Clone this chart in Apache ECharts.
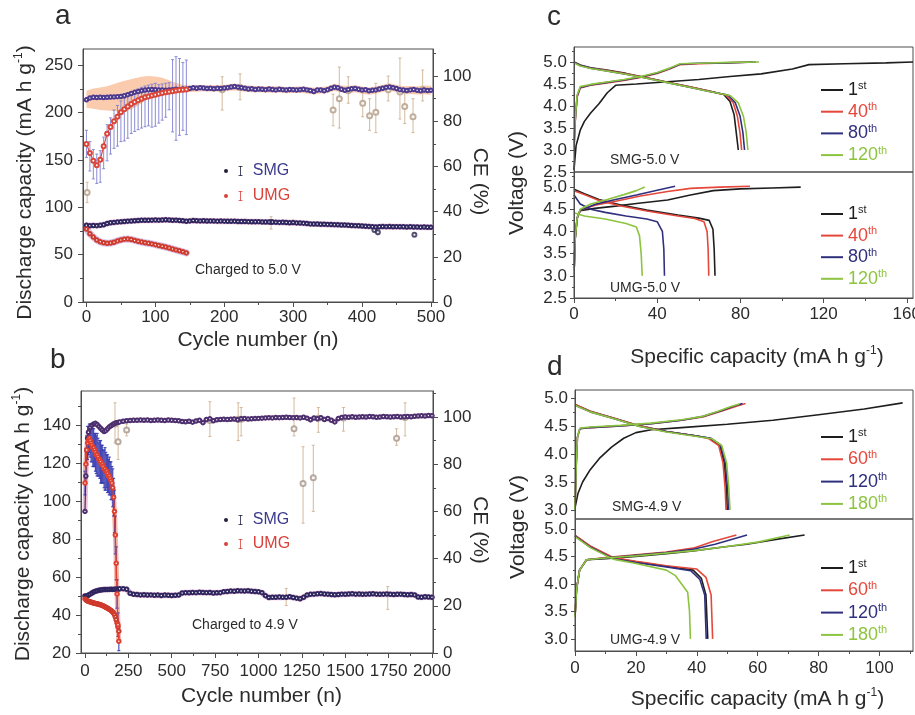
<!DOCTYPE html>
<html>
<head>
<meta charset="utf-8">
<title>Cycling performance of SMG and UMG</title>
<script src="https://cdn.jsdelivr.net/npm/echarts@6.0.0/dist/echarts.min.js"></script>
<style>
html,body{margin:0;padding:0;background:#ffffff;}
#chart{width:915px;height:715px;}
</style>
</head>
<body>
<div id="chart"></div>
<script>
// ================= DATA : panel a (charged to 5.0 V) =================
const aCycles = [0,5,10,15,20,25,30,35,40,45,50,55,60,65,70,75,80,85,90,95,
  100,105,110,115,120,125,130,135,140,145,150,155,160,165,170,175,180,185,190,195,
  200,205,210,215,220,225,230,235,240,245,250,255,260,265,270,275,280,285,290,295,
  300,305,310,315,320,325,330,335,340,345,350,355,360,365,370,375,380,385,390,395,
  400,405,410,415,420,425,430,435,440,445,450,455,460,465,470,475,480,485,490,495,500];
const aSmgCap = [81.0,80.5,80.8,80.6,81.0,81.5,82.8,83.6,84.0,84.3,
  84.6,85.0,85.3,85.5,85.8,86.0,86.2,86.3,86.3,86.4,
  86.5,86.4,86.6,86.7,86.5,86.3,86.4,86.0,85.8,85.2,
  85.6,85.9,85.8,85.6,85.7,85.5,85.6,85.4,85.3,85.4,
  85.3,85.2,85.1,85.3,85.0,84.9,85.0,84.8,84.7,84.6,
  84.8,84.5,84.4,84.5,84.3,84.2,84.0,84.1,83.9,83.7,
  83.8,83.5,83.3,83.2,82.8,82.4,82.2,82.3,82.1,82.0,
  81.9,81.8,81.6,81.5,81.3,81.2,81.0,80.8,80.6,80.4,
  80.2,80.0,79.8,79.5,79.2,79.4,79.6,79.5,79.6,79.4,
  79.5,79.3,79.4,79.2,79.3,79.1,79.2,79.0,79.1,78.9,78.8];
const aSmgCe = [89.5,90.3,90.6,90.5,90.6,90.5,90.6,90.7,90.8,90.9,
  91.0,91.3,91.8,92.3,92.8,93.2,93.5,93.8,94.0,94.1,
  94.0,93.9,93.8,93.7,93.9,94.0,94.2,94.1,94.3,94.2,
  94.5,94.8,94.6,94.9,94.7,94.5,94.6,94.4,94.6,94.5,
  94.7,94.9,95.2,95.4,95.1,94.8,94.6,94.3,94.4,94.1,
  94.3,94.2,94.0,94.3,94.1,93.9,94.2,94.0,93.8,94.1,
  94.0,93.8,94.0,94.2,93.9,93.6,93.2,93.8,93.9,93.5,
  94.0,94.6,95.1,94.8,94.2,93.7,94.1,94.4,94.5,94.2,
  93.8,94.0,93.5,93.7,93.9,94.3,94.6,95.0,95.2,94.9,
  94.5,94.0,93.8,93.6,93.9,94.1,93.7,93.5,93.8,93.6,93.7];
const aUmgCycles = [0,5,10,15,20,25,30,35,40,45,50,55,60,65,70,75,80,85,90,95,
  100,105,110,115,120,125,130,135,140,145];
const aUmgCap = [77.0,72.0,68.5,65.5,63.5,62.5,62.0,62.3,63.0,64.5,
  65.5,66.3,66.5,66.0,65.0,64.0,63.3,62.6,62.0,61.3,
  60.5,59.6,58.8,58.0,57.0,56.0,55.0,54.0,53.0,51.8];
const aUmgCe = [70.0,66.0,62.5,60.5,63.0,69.0,74.5,77.5,80.0,82.0,
  84.0,85.3,86.5,87.6,88.5,89.3,90.0,90.6,91.0,91.4,
  91.8,92.2,92.5,92.8,93.1,93.3,93.6,93.8,94.0,94.1];
const aUmgCeErrDown = [6,8,8,8,10,10,12,12,12,13,13,14,14,13,13,13,13,13,13,14,14,13,12,11,8,18,22,20,18,20];
const aUmgCeErrUp = [6,5,5,5,4,4,4,4,5,5,5,5,5,5,5,5,5,5,5,5,5,4,4,4,4,14,15,14,12,13];
// error band of SMG coulombic efficiency
const aBandCycles = [0,10,20,30,40,50,60,70,80,90,100,110,120,130,140,150,160,170,180,190,
  200,210,220,230,240,250,260,270,280,290,300,310,320,330,340,350,360,370,380,390,
  400,410,420,430,440,450,460,470,480,490,500];
const aBandLow = [86,85.5,85,84.8,84.5,84.3,84.8,86,88,90,
  91.5,92,92.2,92.4,92.8,93,93.1,93.3,93.2,93.1,
  93.2,93.6,93.5,93.1,92.9,92.8,92.7,92.6,92.7,92.4,
  92.5,92.6,92.3,91.9,92.3,92.5,93.4,92.8,92.4,92.9,
  92.2,91.8,92.2,93.1,93.6,92.8,92,92.1,91.9,92,91.8];
const aBandHigh = [93.5,94.5,95,95.5,96.5,97.5,98.3,99,99.7,100,
  99.8,99.3,98.2,97,96.2,95.8,96.2,96,95.9,96,
  96.1,96.6,96.5,96,95.7,95.6,95.4,95.5,95.5,95.2,
  95.3,95.4,95.3,94.8,95.2,95.5,96.6,95.8,95.6,96,
  95.4,95,95.4,96.2,96.8,96.1,95.5,95.6,95.4,95.8,95.7];
// scattered CE outliers with error bars
const aOutCycles = [1,197,223,358,367,380,401,411,420,438,455,462,474,488];
const aOutCe = [48.5,94,95,85,90,93.5,88,82.5,84,94,93,86.5,82,94];
const aOutLow = [44,85,89.5,78,77,88,82,76,75,89,81,79,75,89];
const aOutHigh = [53,99.7,101,92,104,99.7,93,90,96.8,100,108,94,90,102.7];
const aCapOutCycles = [268,418,423,476];
const aCapOutVal = [84.5,76,73.5,71];
const aCapOutLow = [77,74,71,69];
const aCapOutHigh = [90,78,76,73];

// ================= DATA : panel b (charged to 4.9 V) =================
const bCycles = [0,5,10,15,20,30,40,50,60,70,80,90,100,110,120,130,140,150,160,170,180,190,200,
  220,240,260,280,300,320,340,360,380,400,420,440,460,480,500,520,540,560,580,600,
  620,640,660,680,700,720,740,760,780,800,820,840,860,880,900,920,940,960,980,1000,
  1020,1040,1060,1080,1100,1120,1140,1160,1180,1200,1220,1240,1260,1280,1300,1320,1340,1360,1380,1400,
  1420,1440,1460,1480,1500,1520,1540,1560,1580,1600,1620,1640,1660,1680,1700,1720,1740,1760,1780,1800,
  1820,1840,1860,1880,1900,1920,1940,1960,1980,2000];
const bSmgCap = [50.0,49.8,49.9,50.2,50.5,
  51.0,51.6,52.1,52.5,52.8,53.0,53.2,53.3,53.4,53.4,53.5,53.5,53.6,53.5,53.6,53.7,53.6,53.8,
  53.9,53.6,51.5,50.9,50.8,50.6,50.7,50.5,50.6,50.4,
  50.5,50.3,50.5,50.4,50.3,50.4,50.5,51.6,51.8,51.7,
  51.9,51.8,52.0,51.9,51.8,51.9,51.6,51.7,51.8,52.3,
  52.4,52.6,52.5,52.8,52.7,52.6,52.8,52.5,52.4,52.2,
  51.8,50.2,49.2,49.4,49.3,49.5,49.3,49.4,49.6,49.2,
  48.9,48.6,49.3,50.5,50.9,51.0,51.2,51.3,51.1,51.0,
  50.8,50.7,50.8,51.0,50.9,51.1,51.2,51.0,51.1,50.9,
  51.0,51.1,51.2,51.0,50.9,51.0,51.1,50.9,50.8,50.9,
  51.0,50.8,50.7,50.8,50.6,49.5,49.4,49.6,49.5,49.4];
const bSmgCe = [60.0,75.0,86.0,91.0,93.5,
  95.5,96.5,97.0,97.3,96.8,96.0,95.2,94.5,93.8,94.2,95.0,95.8,96.3,96.8,97.2,97.5,97.7,97.9,
  98.2,98.4,98.5,98.6,98.6,98.7,98.6,98.7,98.5,98.6,
  98.7,98.6,98.5,98.7,98.6,98.5,98.4,98.1,98.0,98.2,
  97.8,98.3,98.6,97.6,98.9,99.2,98.4,98.8,98.9,99.0,
  98.9,99.0,99.1,98.8,99.2,99.3,99.1,99.2,99.3,99.4,
  99.5,99.6,99.7,99.6,99.8,99.7,99.8,99.9,99.8,99.7,
  99.8,99.6,99.9,99.5,98.8,99.6,99.2,99.7,98.9,99.4,
  98.6,97.9,99.3,99.8,100.0,99.9,100.1,99.9,100.0,100.1,
  100.0,100.2,100.1,99.9,100.0,100.2,100.1,100.0,100.1,100.2,
  100.0,100.1,100.2,100.1,100.3,100.4,100.5,100.4,100.6,100.5];
const bUmgCycles = [0,5,10,15,20,25,30,35,40,45,50,55,60,65,70,75,80,85,90,95,
  100,105,110,115,120,125,130,135,140,145,150,155,160,165,170,175,180,185,190,195];
const bUmgCap = [48.5,48.0,47.6,47.4,47.2,47.0,46.9,46.8,46.6,46.5,
  46.3,46.2,46.1,46.0,45.9,45.8,45.6,45.5,45.4,45.2,
  45.0,44.8,44.6,44.3,44.1,43.8,43.6,43.3,43.0,42.7,
  42.4,42.0,41.6,41.0,40.2,39.0,37.5,35.8,33.8,31.5];
const bUmgCe = [72,80,86,89,90,91,90,89,88,87,
  87,86,85,84,84,83,82,82,81,80,
  80,79,78,78,77,77,76,75,75,74,
  73,72,70,66,60,50,38,25,12,5];
const bUmgCeErr = [5,6,6,7,6,6,7,8,7,8,8,7,8,8,9,8,7,8,9,8,8,7,8,9,8,7,8,7,8,7,8,7,8,8,9,8,7,6,5,4];
const bOutCycles = [173,191,240,720,883,900,1205,1257,1316,1345,1490,1796,1845];
const bOutCe = [97,89.5,94.5,98.5,99,99,95,71.8,74.3,99.5,99.6,91,99.8];
const bOutLow = [89,82,92,91.7,90,92,92,55,60,93.5,94,88,92];
const bOutHigh = [106,97,97,106.5,106,104,108,87.4,88,104,104,95,106];
const bCapOutCycles = [1160,1745];
const bCapOutVal = [50,50];
const bCapOutLow = [45,43];
const bCapOutHigh = [54,55];

// ================= DATA : panel c (5.0 V profiles) =================
const c1Ch1X = [0,1,3,5,8,12,16,20,30,45,60,75,90,105,113,130,150,163];
const c1Ch1Y = [2.55,3.1,3.45,3.65,3.84,4.05,4.3,4.47,4.5,4.55,4.6,4.67,4.73,4.84,4.94,4.96,4.98,5.0];
const c1Ch40X = [0,0.5,1.5,3,8,15,24,32,40,46,51,60,72,86];
const c1Ch40Y = [3.0,3.6,4.2,4.41,4.47,4.52,4.58,4.65,4.74,4.84,4.94,4.96,4.98,5.0];
const c1Ch80X = [0,0.5,1.5,3,8,15,24,32,40,46,51,60,74,87.5];
const c1Ch80Y = [3.0,3.62,4.22,4.42,4.48,4.53,4.59,4.66,4.75,4.85,4.95,4.97,4.98,5.0];
const c1Ch120X = [0,0.5,1.5,3,8,15,24,32,40,46,51,60,75,89];
const c1Ch120Y = [3.0,3.65,4.25,4.44,4.49,4.54,4.6,4.67,4.76,4.86,4.96,4.97,4.99,5.0];
const c1Dc1X = [0,3,8,15,25,35,45,55,65,72,75,77,78,79];
const c1Dc1Y = [5.0,4.93,4.87,4.82,4.74,4.64,4.54,4.44,4.34,4.26,4.1,3.8,3.4,3.0];
const c1Dc40X = [0,3,8,15,25,35,45,55,65,73,76.5,78.5,79.8,80.6];
const c1Dc40Y = [4.99,4.92,4.86,4.81,4.73,4.64,4.54,4.44,4.34,4.25,4.08,3.78,3.4,3.0];
const c1Dc80X = [0,3,8,15,25,35,45,55,65,74,77.5,79.8,81.2,82];
const c1Dc80Y = [4.99,4.92,4.86,4.8,4.72,4.63,4.53,4.43,4.33,4.25,4.08,3.78,3.4,3.0];
const c1Dc120X = [0,3,8,15,25,35,45,55,65,75,79,81.5,82.8,83.6];
const c1Dc120Y = [4.98,4.91,4.85,4.8,4.72,4.63,4.53,4.43,4.33,4.24,4.07,3.76,3.4,3.0];

const c2Ch1X = [0,0.5,1.5,3,10,20,30,45,56,67,80,95,109];
const c2Ch1Y = [3.0,3.8,4.3,4.47,4.52,4.57,4.63,4.71,4.82,4.92,4.96,4.98,5.0];
const c2Ch40X = [0,0.5,1.5,3,10,20,32,45,56,70,84.6];
const c2Ch40Y = [3.0,3.8,4.3,4.48,4.59,4.68,4.8,4.9,4.97,5.0,5.02];
const c2Ch80X = [0,0.5,1.5,3,10,20,30,40,48.6];
const c2Ch80Y = [3.0,3.8,4.3,4.48,4.61,4.72,4.82,4.93,5.02];
const c2Ch120X = [0,0.5,1.5,3,8,16,24,30,34];
const c2Ch120Y = [3.0,3.8,4.3,4.5,4.62,4.72,4.83,4.92,5.0];
const c2Dc1X = [0,5,12,22,35,50,60,65,66.8,67.4,67.8];
const c2Dc1Y = [4.95,4.85,4.72,4.6,4.48,4.37,4.3,4.25,4.05,3.6,3.0];
const c2Dc40X = [0,5,12,22,35,50,58,62.5,64,64.5,64.8];
const c2Dc40Y = [4.92,4.83,4.7,4.58,4.46,4.35,4.29,4.22,4.0,3.6,3.0];
const c2Dc80X = [0,3,8,15,25,35,40,42.5,43.2,43.5];
const c2Dc80Y = [4.82,4.62,4.5,4.43,4.35,4.28,4.22,4.0,3.6,3.0];
const c2Dc120X = [0,5,15,25,30,31.5,32.3,32.8];
const c2Dc120Y = [4.42,4.35,4.28,4.18,4.1,3.9,3.5,3.0];

// ================= DATA : panel d (4.9 V profiles) =================
const d1Ch1X = [0,1,2.5,5,8,12,16,20,25,35,50,65,80,95,107.6];
const d1Ch1Y = [3.04,3.3,3.5,3.72,3.92,4.12,4.28,4.38,4.43,4.47,4.53,4.6,4.7,4.8,4.91];
const d1Ch60X = [0,0.4,0.8,1.6,5,15,25,35,42,48,53,56];
const d1Ch60Y = [3.0,3.8,4.3,4.45,4.47,4.5,4.54,4.6,4.66,4.76,4.85,4.9];
const d1Ch120X = [0,0.4,0.8,1.6,5,15,25,35,42,48,52,55];
const d1Ch120Y = [3.0,3.8,4.3,4.45,4.47,4.5,4.54,4.6,4.67,4.77,4.85,4.9];
const d1Ch180X = [0,0.4,0.8,1.6,5,15,25,35,42,47,51,54];
const d1Ch180Y = [3.0,3.8,4.3,4.46,4.48,4.51,4.55,4.61,4.67,4.76,4.84,4.89];
const d1Dc1X = [0,5,12.6,21.3,30,40,44.3,47.5,49,49.7,50];
const d1Dc1Y = [4.88,4.76,4.64,4.5,4.4,4.32,4.28,4.16,3.84,3.4,3.0];
const d1Dc60X = [0,5,12.6,21.3,30,40,44,47.2,48.6,49.3,49.6];
const d1Dc60Y = [4.88,4.76,4.64,4.5,4.4,4.32,4.27,4.15,3.84,3.4,3.0];
const d1Dc120X = [0,5,12.6,21.3,30,40,44.6,47.8,49.4,50.1,50.5];
const d1Dc120Y = [4.87,4.75,4.63,4.49,4.4,4.32,4.28,4.16,3.84,3.4,3.0];
const d1Dc180X = [0,5,12.6,21.3,30,40,45,48.2,49.8,50.5,50.9];
const d1Dc180Y = [4.87,4.75,4.63,4.49,4.39,4.31,4.27,4.15,3.84,3.4,3.0];

const d2Ch1X = [0,0.5,1.5,3.8,10,20,30,38.8,50,56.4,65,75.4];
const d2Ch1Y = [3.4,3.9,4.25,4.44,4.46,4.5,4.55,4.6,4.68,4.72,4.8,4.89];
const d2Ch60X = [0,0.5,1.5,3.8,10,20,30,38.8,45.3,53];
const d2Ch60Y = [3.4,3.9,4.25,4.44,4.48,4.53,4.58,4.65,4.77,4.89];
const d2Ch120X = [0,0.5,1.5,3.8,10,20,30,38.8,46,56.5];
const d2Ch120Y = [3.4,3.9,4.25,4.44,4.47,4.52,4.57,4.63,4.72,4.89];
const d2Ch180X = [0,0.5,1.5,3.8,10,20,30,40,50,60,70.5];
const d2Ch180Y = [3.4,3.9,4.25,4.44,4.47,4.51,4.56,4.61,4.68,4.76,4.89];
const d2Dc1X = [0,5,12.5,20,30,38.8,41.5,43,43.6];
const d2Dc1Y = [4.88,4.68,4.47,4.4,4.32,4.25,4.1,3.8,3.0];
const d2Dc60X = [0,5,12.5,20,30,40,43,44.7,45.2];
const d2Dc60Y = [4.88,4.69,4.48,4.41,4.33,4.27,4.12,3.8,3.0];
const d2Dc120X = [0,5,12.5,20,30,38,41,42.6,43.1];
const d2Dc120Y = [4.87,4.67,4.46,4.39,4.31,4.24,4.08,3.8,3.0];
const d2Dc180X = [0,5,12.5,20,30,33,35,37,37.6,37.9];
const d2Dc180Y = [4.86,4.66,4.45,4.37,4.25,4.15,4.0,3.85,3.5,3.0];

// ================= tick values / labels =================
const aXTicks = [0,100,200,300,400,500];
const aXMinor = [50,150,250,350,450];
const aYTicks = [0,50,100,150,200,250];
const aYMinor = [25,75,125,175,225];
const ceTicks = [0,20,40,60,80,100];
const ceMinor = [10,30,50,70,90,110];
const bXTicks = [0,250,500,750,1000,1250,1500,1750,2000];
const bXMinor = [125,375,625,875,1125,1375,1625,1875];
const bYTicks = [20,40,60,80,100,120,140];
const bYMinor = [30,50,70,90,110,130,150];
const cXTicks = [0,40,80,120,160];
const cXMinor = [20,60,100,140];
const cYTicks = [2.5,3.0,3.5,4.0,4.5,5.0];
const cYMinor = [2.75,3.25,3.75,4.25,4.75,5.25];
const dXTicks = [0,20,40,60,80,100];
const dXMinor = [10,30,50,70,90,110];
const dYTicks = [3.0,3.5,4.0,4.5,5.0];
const dYMinor = [3.25,3.75,4.25,4.75];
const cLegend = ['1st','40th','80th','120th'];
const dLegend = ['1st','60th','120th','180th'];

// ================= styling =================
const FONT = 'Liberation Sans, Arial, Helvetica, sans-serif';
const INK = '#2b2b2b';
const AXC = '#4d4d4d';
const CURVE = ['#1e1e1e','#e5473b','#2f2f7e','#8cc43f'];
const RICH_NAME = {
  t: {fontSize: 21, fontFamily: FONT, color: INK, lineHeight: 24},
  sup: {fontSize: 12, fontFamily: FONT, color: INK, lineHeight: 12, verticalAlign: 'top'}
};
const SPEC_NAME = '{t|Specific capacity (mA h g}{sup|-1}{t|)}';
const DC_NAME = '{t|Discharge capacity (mA h g}{sup|-1}{t|)}';
const f1 = v => Number(v).toFixed(1);
const plain = v => String(v);

function majorAxis(gridIndex, pos, min, max, ticks, o) {
  o = o || {};
  const ax = {
    type: 'value', gridIndex: gridIndex, position: pos, min: min, max: max,
    splitLine: {show: false}, minorSplitLine: {show: false},
    axisLine: {show: o.line !== false, onZero: false, lineStyle: {color: AXC, width: 1}},
    axisTick: {show: o.ticks !== false, inside: false, length: o.tl || 5, lineStyle: {color: AXC, width: 1}},
    axisLabel: {show: o.labels !== false, margin: o.margin || 8, color: INK,
      fontSize: o.fs || 17, fontFamily: FONT, formatter: o.fmt || plain},
    silent: true, z: 5
  };
  if (ticks && ticks.length) {
    ax.axisTick.customValues = ticks;
    ax.axisLabel.customValues = ticks;
  }
  if (o.name) {
    ax.name = o.name;
    ax.nameLocation = 'middle';
    ax.nameGap = o.gap;
    ax.nameMoveOverlap = false;
    if (o.rot !== undefined) ax.nameRotate = o.rot;
    ax.nameTextStyle = {fontSize: 21, fontFamily: FONT, color: INK, rich: RICH_NAME, padding: o.pad || 0};
  }
  return ax;
}
function minorAxis(gridIndex, pos, min, max, ticks, len) {
  return {
    type: 'value', gridIndex: gridIndex, position: pos, min: min, max: max,
    splitLine: {show: false}, axisLine: {show: false, onZero: false}, axisLabel: {show: false},
    axisTick: {show: true, inside: false, length: len || 3, customValues: ticks, lineStyle: {color: AXC, width: 1}},
    silent: true, z: 5
  };
}
function pts(xs, ys) { return xs.map((x, i) => [x, ys[i]]); }

function glow(xi, yi, xs, ys, color, width) {
  return {type: 'line', xAxisIndex: xi, yAxisIndex: yi, data: pts(xs, ys), symbol: 'none',
    lineStyle: {color: color, width: width, opacity: 0.7, cap: 'round', join: 'round'}, silent: true, z: 2, animation: false};
}
function dots(name, xi, yi, xs, ys, color, size) {
  return {type: 'line', name: name, xAxisIndex: xi, yAxisIndex: yi, data: pts(xs, ys),
    symbol: 'emptyCircle', symbolSize: size || 3.5, showSymbol: true, showAllSymbol: true,
    lineStyle: {color: color, width: 1.2}, itemStyle: {color: color, borderWidth: 1},
    silent: true, z: 4, animation: false};
}
function scatterPts(xi, yi, xs, ys, color, size) {
  return {type: 'scatter', xAxisIndex: xi, yAxisIndex: yi, data: pts(xs, ys), symbol: 'emptyCircle',
    symbolSize: size || 5, itemStyle: {color: color, borderWidth: 1}, silent: true, z: 4, animation: false};
}
function errBars(xi, yi, xs, lo, hi, color, cap, width, opacity) {
  return {
    type: 'custom', xAxisIndex: xi, yAxisIndex: yi, silent: true, clip: true, animation: false, z: 3,
    data: xs.map((x, i) => [x, lo[i], hi[i]]), encode: {x: 0, y: [1, 2]},
    renderItem: function (params, api) {
      const x = api.value(0);
      const p1 = api.coord([x, api.value(1)]);
      const p2 = api.coord([x, api.value(2)]);
      const st = {stroke: color, lineWidth: width || 1, opacity: opacity || 1};
      return {type: 'group', children: [
        {type: 'line', shape: {x1: p1[0], y1: p1[1], x2: p2[0], y2: p2[1]}, style: st},
        {type: 'line', shape: {x1: p1[0] - cap, y1: p1[1], x2: p1[0] + cap, y2: p1[1]}, style: st},
        {type: 'line', shape: {x1: p2[0] - cap, y1: p2[1], x2: p2[0] + cap, y2: p2[1]}, style: st}
      ]};
    }
  };
}
function band(xi, yi, xs, lo, hi, color) {
  return {
    type: 'custom', xAxisIndex: xi, yAxisIndex: yi, silent: true, clip: true, animation: false, z: 1,
    data: [[xs[0], lo[0]]], encode: {x: 0, y: 1},
    renderItem: function (params, api) {
      const top = xs.map((x, i) => api.coord([x, hi[i]]));
      const bot = xs.map((x, i) => api.coord([x, lo[i]])).reverse();
      return {type: 'polygon', shape: {points: top.concat(bot)}, style: {fill: color}};
    }
  };
}
function curve(name, xi, yi, xs, ys, color) {
  return {type: 'line', name: name, xAxisIndex: xi, yAxisIndex: yi, data: pts(xs, ys),
    symbol: 'none', showSymbol: false, lineStyle: {color: color, width: 1.6},
    itemStyle: {color: color}, silent: true, z: 3, animation: false};
}
function diff(v, e, sign) { return v.map((x, i) => x + sign * e[i]); }

// ================= axes =================
const xAxes = [
  majorAxis(0, 'bottom', -5, 503, aXTicks, {name: 'Cycle number (n)', gap: 28, margin: 7}),   // 0
  minorAxis(0, 'bottom', -5, 503, aXMinor),                                                     // 1
  majorAxis(1, 'bottom', -23, 2006, bXTicks, {name: 'Cycle number (n)', gap: 33, margin: 10, pad: [0, 0, 0, 9]}), // 2
  minorAxis(1, 'bottom', -23, 2006, bXMinor),                                                   // 3
  majorAxis(2, 'bottom', 0, 163, [], {labels: false, ticks: false, line: false}),              // 4 c1
  majorAxis(3, 'bottom', 0, 163, cXTicks, {name: SPEC_NAME, gap: 47, margin: 8, pad: [0, 0, 0, 27]}), // 5 c2
  minorAxis(3, 'bottom', 0, 163, cXMinor),                                                      // 6
  majorAxis(4, 'bottom', 0, 111, [], {labels: false, ticks: false, line: false}),              // 7 d1
  majorAxis(5, 'bottom', 0, 111, dXTicks, {name: SPEC_NAME, gap: 36, margin: 9, pad: [0, 0, 0, 27]}), // 8 d2
  minorAxis(5, 'bottom', 0, 111, dXMinor)                                                       // 9
];
const yAxes = [
  majorAxis(0, 'left', 0, 267, aYTicks, {name: DC_NAME, gap: 46, margin: 10, pad: [0, 14, 0, 0]}),  // 0
  minorAxis(0, 'left', 0, 267, aYMinor),                                                // 1
  majorAxis(0, 'right', 0, 112, ceTicks, {name: 'CE (%)', rot: -90, gap: 36, margin: 10, pad: [0, 0, 0, 12]}), // 2
  minorAxis(0, 'right', 0, 112, ceMinor),                                               // 3
  majorAxis(1, 'left', 20, 158, bYTicks, {name: DC_NAME, gap: 46, margin: 10, pad: [0, 4, 0, 0]}),  // 4
  minorAxis(1, 'left', 20, 158, bYMinor),                                               // 5
  majorAxis(1, 'right', 0, 111, ceTicks, {name: 'CE (%)', rot: -90, gap: 36, margin: 10, pad: [0, 0, 0, 16]}), // 6
  minorAxis(1, 'right', 0, 111, ceMinor),                                               // 7
  majorAxis(2, 'left', 2.5, 5.34, cYTicks, {fmt: f1, margin: 7, tl: 4}),               // 8
  minorAxis(2, 'left', 2.5, 5.34, cYMinor, 2),                                          // 9
  majorAxis(3, 'left', 2.5, 5.34, cYTicks, {fmt: f1, margin: 7, tl: 4}),               // 10
  minorAxis(3, 'left', 2.5, 5.34, cYMinor, 2),                                          // 11
  majorAxis(4, 'left', 2.84, 5.14, dYTicks, {fmt: f1, margin: 7, tl: 4}),              // 12
  minorAxis(4, 'left', 2.84, 5.14, dYMinor, 2),                                         // 13
  majorAxis(5, 'left', 2.78, 5.18, dYTicks, {fmt: f1, margin: 7, tl: 4}),              // 14
  minorAxis(5, 'left', 2.78, 5.18, dYMinor, 2)                                          // 15
];

function gridBox(left, top, width, height) {
  return {left: left, top: top, width: width, height: height, containLabel: false, outerBoundsMode: 'none',
    show: true, borderColor: AXC, borderWidth: 1, backgroundColor: 'transparent'};
}

// ================= series =================
const TAN = '#cfb193';
const series = [
  // ---- panel a ----
  band(0, 2, aBandCycles, aBandLow, aBandHigh, 'rgba(245,160,105,0.55)'),
  errBars(0, 2, aUmgCycles, diff(aUmgCe, aUmgCeErrDown, -1), diff(aUmgCe, aUmgCeErrUp, 1), '#7f80d2', 1.5, 1, 0.9),
  errBars(0, 2, aOutCycles, aOutLow, aOutHigh, TAN, 1.5, 1, 0.9),
  scatterPts(0, 2, aOutCycles, aOutCe, '#b39c86', 5),
  errBars(0, 0, aCapOutCycles, aCapOutLow, aCapOutHigh, TAN, 1.5, 1, 0.9),
  scatterPts(0, 0, aCapOutCycles, aCapOutVal, '#2b2b55', 4),
  glow(0, 0, aCycles, aSmgCap, '#e7a3c6', 6),
  dots('SMG', 0, 0, aCycles, aSmgCap, '#2f2660', 3.5),
  glow(0, 0, aUmgCycles, aUmgCap, '#c6a6dc', 7),
  dots('UMG', 0, 0, aUmgCycles, aUmgCap, '#cf3a2c', 3.5),
  glow(0, 2, aCycles, aSmgCe, '#e7a3c6', 5),
  dots('SMG', 0, 2, aCycles, aSmgCe, '#4b3a8e', 3.5),
  dots('UMG', 0, 2, aUmgCycles, aUmgCe, '#d9463a', 4),
  // ---- panel b ----
  errBars(2, 6, bUmgCycles, diff(bUmgCe, bUmgCeErr, -1), diff(bUmgCe, bUmgCeErr, 1), '#3a3cb0', 1.5, 1.2, 0.9),
  errBars(2, 6, bOutCycles, bOutLow, bOutHigh, TAN, 1.5, 1, 0.9),
  scatterPts(2, 6, bOutCycles, bOutCe, '#a8968a', 5),
  errBars(2, 4, bCapOutCycles, bCapOutLow, bCapOutHigh, TAN, 1.5, 1, 0.9),
  glow(2, 4, bCycles, bSmgCap, '#e7a3c6', 6),
  dots('SMG', 2, 4, bCycles, bSmgCap, '#2f2660', 3.5),
  glow(2, 4, bUmgCycles, bUmgCap, '#e7a3c6', 5),
  dots('UMG', 2, 4, bUmgCycles, bUmgCap, '#cf3a2c', 3.5),
  glow(2, 6, bCycles, bSmgCe, '#e7a3c6', 5),
  dots('SMG', 2, 6, bCycles, bSmgCe, '#4b2f6e', 3.5),
  glow(2, 6, bUmgCycles, bUmgCe, '#f0a090', 5),
  dots('UMG', 2, 6, bUmgCycles, bUmgCe, '#e0402f', 3.5),
  // ---- panel c top (SMG-5.0 V) ----
  curve('c1:1st', 4, 8, c1Ch1X, c1Ch1Y, CURVE[0]),
  curve('c1:1st', 4, 8, c1Dc1X, c1Dc1Y, CURVE[0]),
  curve('c1:40th', 4, 8, c1Ch40X, c1Ch40Y, CURVE[1]),
  curve('c1:40th', 4, 8, c1Dc40X, c1Dc40Y, CURVE[1]),
  curve('c1:80th', 4, 8, c1Ch80X, c1Ch80Y, CURVE[2]),
  curve('c1:80th', 4, 8, c1Dc80X, c1Dc80Y, CURVE[2]),
  curve('c1:120th', 4, 8, c1Ch120X, c1Ch120Y, CURVE[3]),
  curve('c1:120th', 4, 8, c1Dc120X, c1Dc120Y, CURVE[3]),
  // ---- panel c bottom (UMG-5.0 V) ----
  curve('c2:1st', 5, 10, c2Ch1X, c2Ch1Y, CURVE[0]),
  curve('c2:1st', 5, 10, c2Dc1X, c2Dc1Y, CURVE[0]),
  curve('c2:40th', 5, 10, c2Ch40X, c2Ch40Y, CURVE[1]),
  curve('c2:40th', 5, 10, c2Dc40X, c2Dc40Y, CURVE[1]),
  curve('c2:80th', 5, 10, c2Ch80X, c2Ch80Y, CURVE[2]),
  curve('c2:80th', 5, 10, c2Dc80X, c2Dc80Y, CURVE[2]),
  curve('c2:120th', 5, 10, c2Ch120X, c2Ch120Y, CURVE[3]),
  curve('c2:120th', 5, 10, c2Dc120X, c2Dc120Y, CURVE[3]),
  // ---- panel d top (SMG-4.9 V) ----
  curve('d1:1st', 7, 12, d1Ch1X, d1Ch1Y, CURVE[0]),
  curve('d1:1st', 7, 12, d1Dc1X, d1Dc1Y, CURVE[0]),
  curve('d1:60th', 7, 12, d1Ch60X, d1Ch60Y, CURVE[1]),
  curve('d1:60th', 7, 12, d1Dc60X, d1Dc60Y, CURVE[1]),
  curve('d1:120th', 7, 12, d1Ch120X, d1Ch120Y, CURVE[2]),
  curve('d1:120th', 7, 12, d1Dc120X, d1Dc120Y, CURVE[2]),
  curve('d1:180th', 7, 12, d1Ch180X, d1Ch180Y, CURVE[3]),
  curve('d1:180th', 7, 12, d1Dc180X, d1Dc180Y, CURVE[3]),
  // ---- panel d bottom (UMG-4.9 V) ----
  curve('d2:1st', 8, 14, d2Ch1X, d2Ch1Y, CURVE[0]),
  curve('d2:1st', 8, 14, d2Dc1X, d2Dc1Y, CURVE[0]),
  curve('d2:60th', 8, 14, d2Ch60X, d2Ch60Y, CURVE[1]),
  curve('d2:60th', 8, 14, d2Dc60X, d2Dc60Y, CURVE[1]),
  curve('d2:120th', 8, 14, d2Ch120X, d2Ch120Y, CURVE[2]),
  curve('d2:120th', 8, 14, d2Dc120X, d2Dc120Y, CURVE[2]),
  curve('d2:180th', 8, 14, d2Ch180X, d2Ch180Y, CURVE[3]),
  curve('d2:180th', 8, 14, d2Dc180X, d2Dc180Y, CURVE[3])
];

// ================= legends =================
const LEG_ICON = 'path://M0.5,5a2,2 0 1,0 4,0a2,2 0 1,0 -4,0Z M15,0H19V0.8H17.4V9.2H19V10H15V9.2H16.6V0.8H15Z';
function smgLegend(top, gap) {
  return {
    data: [
      {name: 'SMG', textStyle: {color: '#3b3a8c'}, itemStyle: {color: '#1f1f3a'}},
      {name: 'UMG', textStyle: {color: '#d9423a'}, itemStyle: {color: '#d9423a'}}
    ],
    left: 219, top: top, orient: 'vertical', itemGap: gap, itemWidth: 19, itemHeight: 10,
    icon: LEG_ICON, selectedMode: false,
    textStyle: {fontSize: 16, fontFamily: FONT, padding: [0, 0, 0, 5]}
  };
}
function legFmt(name) {
  const s = name.split(':')[1];
  const m = s.match(/^(\d+)([a-z]+)$/);
  return '{n|' + m[1] + '}{s|' + m[2] + '}';
}
function curveLegend(prefix, labels, top, gap) {
  return {
    data: labels.map((l, i) => ({name: prefix + ':' + l, textStyle: {color: CURVE[i]}, itemStyle: {color: CURVE[i]}})),
    left: 816, top: top, orient: 'vertical', itemGap: gap, itemWidth: 22, itemHeight: 2, icon: 'rect',
    selectedMode: false, formatter: legFmt,
    textStyle: {fontSize: 18, fontFamily: FONT,
      rich: {n: {fontSize: 18, fontFamily: FONT, lineHeight: 20},
             s: {fontSize: 11, fontFamily: FONT, lineHeight: 11, verticalAlign: 'top'}}}
  };
}

// ================= annotations =================
function txt(x, y, text, size, opt) {
  opt = opt || {};
  return {type: 'text', x: x, y: y, rotation: opt.rot || 0, silent: true, z: 50,
    style: {text: text, fontSize: size, fontFamily: FONT, fill: opt.color || INK,
      align: opt.align || 'left', verticalAlign: 'middle', textAlign: opt.align || 'left', textVerticalAlign: 'middle'}};
}
const graphics = [
  txt(55, 16, 'a', 28), txt(50, 360, 'b', 28), txt(547, 17, 'c', 28), txt(547, 367, 'd', 28),
  txt(195, 270, 'Charged to 5.0 V', 14), txt(192, 625, 'Charged to 4.9 V', 14),
  txt(610, 160, 'SMG-5.0 V', 14), txt(610, 288, 'UMG-5.0 V', 14),
  txt(612, 507, 'SMG-4.9 V', 14), txt(610, 640, 'UMG-4.9 V', 14),
  txt(517, 183, 'Voltage (V)', 21, {rot: Math.PI / 2, align: 'center'}),
  txt(518, 527, 'Voltage (V)', 21, {rot: Math.PI / 2, align: 'center'})
];

const chart = echarts.init(document.getElementById('chart'), null, {renderer: 'canvas'});
chart.setOption({
  animation: false,
  backgroundColor: '#ffffff',
  textStyle: {fontFamily: FONT},
  grid: [
    gridBox(83, 49, 350, 253),
    gridBox(81, 391, 352, 262),
    gridBox(574, 47, 339, 125),
    gridBox(574, 172, 339, 126),
    gridBox(575, 390, 338, 129),
    gridBox(575, 519, 338, 132)
  ],
  xAxis: xAxes,
  yAxis: yAxes,
  legend: [
    smgLegend(158, 9),
    smgLegend(507, 8),
    curveLegend('c1', cLegend, 75, 2.7),
    curveLegend('c2', cLegend, 199, 2.6),
    curveLegend('d1', dLegend, 422, 3.3),
    curveLegend('d2', dLegend, 553, 3.3)
  ],
  graphic: graphics,
  series: series
});
</script>
</body>
</html>
